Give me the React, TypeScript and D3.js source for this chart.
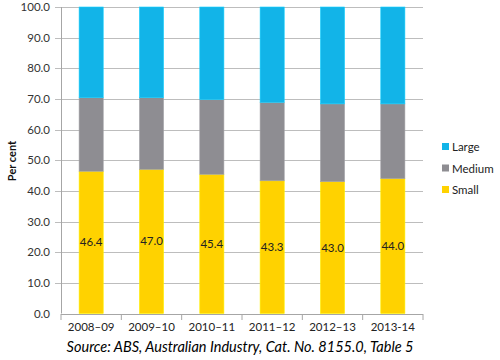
import React, { useEffect, useRef } from 'react';
import * as d3 from 'd3';

const years = ['2008–09', '2009–10', '2010–11', '2011–12', '2012–13', '2013-14'];
const small = [46.4, 47.0, 45.4, 43.3, 43.0, 44.0];
const medium = [24.0, 23.4, 24.4, 25.6, 25.4, 24.4];
const large = [29.6, 29.6, 30.2, 31.1, 31.6, 31.6];
const yTicks = [0, 10, 20, 30, 40, 50, 60, 70, 80, 90, 100];
const seriesNames = ['Small', 'Medium', 'Large'];
const colors: Record<string, string> = { Small: '#ffd200', Medium: '#8e8d92', Large: '#12b4e8' };

const font = 'Lato, "Open Sans", sans-serif';

const App = () => {
  const ref = useRef<SVGSVGElement | null>(null);
  const width = 500;
  const height = 360;

  useEffect(() => {
    if (!ref.current) return;
    const svg = d3.select(ref.current);
    svg.selectAll('*').remove();

    const x = d3.scaleBand().domain(years).range([61, 423]).paddingInner(0.6).paddingOuter(0.3);
    const y = d3.scaleLinear().domain([0, 100]).range([313.5, 7]);

    const rows = years.map((yr, i) => ({ year: yr, Small: small[i], Medium: medium[i], Large: large[i] }));
    const stack = d3.stack<any>().keys(seriesNames);
    const layers = stack(rows);

    // gridlines
    svg.append('g').selectAll('line')
      .data(yTicks.filter(t => t > 0))
      .enter().append('line')
      .attr('x1', 55).attr('x2', 423)
      .attr('y1', d => Math.round(y(d)) + 0.5).attr('y2', d => Math.round(y(d)) + 0.5)
      .attr('stroke', '#bdbdbd').attr('stroke-width', 1.2);

    // y axis line and tick labels
    svg.append('line')
      .attr('x1', 61.5).attr('x2', 61.5).attr('y1', y(100)).attr('y2', y(0))
      .attr('stroke', '#a6a6a6');
    svg.append('g').selectAll('text')
      .data(yTicks)
      .enter().append('text')
      .attr('x', 50).attr('y', d => y(d))
      .attr('dy', '0.35em')
      .attr('text-anchor', 'end')
      .style('font-family', font).style('font-size', '11.5px').style('fill', '#333')
      .text(d => d.toFixed(1));

    // bars
    const g = svg.append('g');
    layers.forEach(layer => {
      g.append('g').selectAll('rect')
        .data(layer)
        .enter().append('rect')
        .attr('x', d => x(d.data.year)!)
        .attr('width', x.bandwidth())
        .attr('y', d => y(d[1]))
        .attr('height', d => y(d[0]) - y(d[1]))
        .attr('fill', colors[layer.key])
        .attr('stroke', d3.color(colors[layer.key])!.brighter(0.4).toString())
        .attr('stroke-width', 0.6);
    });

    // small labels
    g.append('g').selectAll('text')
      .data(rows)
      .enter().append('text')
      .attr('x', d => x(d.year)! + x.bandwidth() / 2)
      .attr('y', d => y(d.Small / 2))
      .attr('dy', '0.35em')
      .attr('text-anchor', 'middle')
      .style('font-family', font).style('font-size', '11.5px').style('fill', '#222')
      .text(d => d.Small.toFixed(1));

    // x axis
    svg.append('line')
      .attr('x1', 61).attr('x2', 423).attr('y1', 314.5).attr('y2', 314.5)
      .attr('stroke', '#a6a6a6');
    svg.append('g').selectAll('line')
      .data(d3.range(years.length + 1))
      .enter().append('line')
      .attr('x1', i => 61 + i * x.step()).attr('x2', i => 61 + i * x.step())
      .attr('y1', 314).attr('y2', 320)
      .attr('stroke', '#a6a6a6');
    svg.append('g').selectAll('text')
      .data(years)
      .enter().append('text')
      .attr('x', d => x(d)! + x.bandwidth() / 2)
      .attr('y', 331)
      .attr('text-anchor', 'middle')
      .style('font-family', font).style('font-size', '11.5px').style('fill', '#222')
      .text(d => d);

    // y label
    svg.append('text')
      .attr('transform', 'translate(16,161) rotate(-90)')
      .attr('text-anchor', 'middle')
      .style('font-family', font).style('font-size', '11px').style('font-weight', 'bold').style('fill', '#111')
      .text('Per cent');

    // legend
    const legend = svg.append('g');
    const legendItems = ['Large', 'Medium', 'Small'];
    legend.selectAll('rect')
      .data(legendItems)
      .enter().append('rect')
      .attr('x', 442).attr('y', (_d, i) => 143 + i * 21.5)
      .attr('width', 7).attr('height', 7)
      .attr('fill', d => colors[d]);
    legend.selectAll('text')
      .data(legendItems)
      .enter().append('text')
      .attr('x', 452).attr('y', (_d, i) => 147 + i * 21.5)
      .attr('dy', '0.35em')
      .style('font-family', font).style('font-size', '11.5px').style('fill', '#222')
      .text(d => d);

    // source
    svg.append('text')
      .attr('x', 240).attr('y', 352)
      .attr('text-anchor', 'middle')
      .style('font-family', font).style('font-size', '14.5px').style('font-style', 'italic').style('fill', '#000')
      .text('Source: ABS, Australian Industry, Cat. No. 8155.0, Table 5');
  }, []);

  return (
    <svg ref={ref} width={width} height={height}
      style={{ position: 'absolute', left: 0, top: 0, background: '#fff' }} />
  );
};

export default App;
